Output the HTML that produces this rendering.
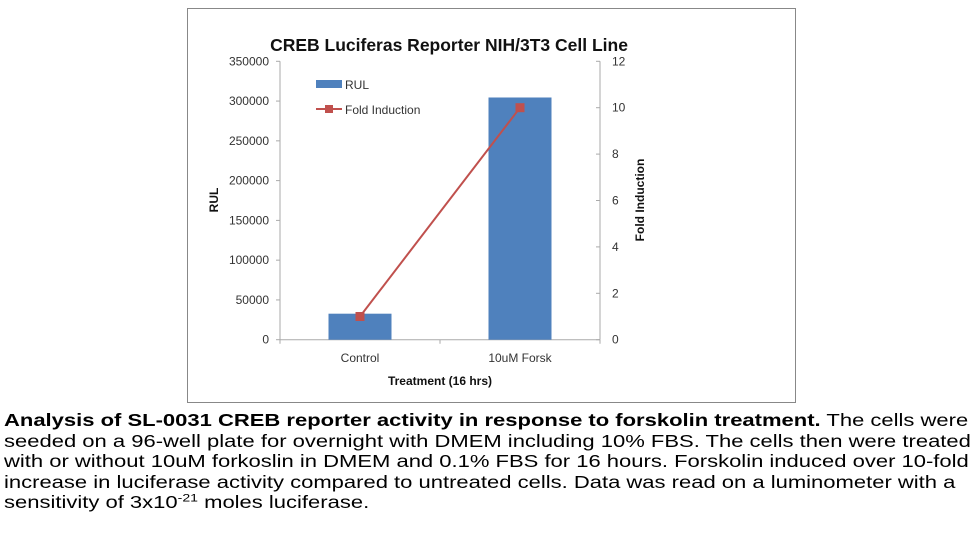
<!DOCTYPE html>
<html><head><meta charset="utf-8"><style>
body{margin:0;width:980px;height:533px;background:#fff;overflow:hidden;font-family:"Liberation Sans",Arial,sans-serif;}
#chart{position:absolute;left:0;top:0;}
#cap{position:absolute;left:4px;top:410px;font-size:17.2px;line-height:20.5px;color:#000;transform:scaleX(1.28);transform-origin:0 0;white-space:nowrap;}
#cap b{font-weight:bold;}
</style></head><body>
<svg id="chart" width="980" height="405" font-family="Liberation Sans, Arial, sans-serif">
<rect x="187.5" y="8.5" width="608" height="394" fill="#fff" stroke="#888" stroke-width="1"/>
<text x="449" y="51" text-anchor="middle" font-size="17.5" font-weight="bold" fill="#111">CREB Luciferas Reporter NIH/3T3 Cell Line</text>
<g id="axes"></g>
<g id="marks"></g>
<rect x="316" y="80" width="26" height="8" fill="#4f81bd"/>
<text x="345" y="89" font-size="12" fill="#333">RUL</text>
<line x1="316" y1="109" x2="342" y2="109" stroke="#c0504d" stroke-width="2"/>
<rect x="325" y="105" width="8" height="8" fill="#c0504d"/>
<text x="345" y="114" font-size="12" fill="#333">Fold Induction</text>
<text x="440" y="385" text-anchor="middle" font-size="12" font-weight="bold" fill="#111">Treatment (16 hrs)</text>
<text transform="translate(218,200) rotate(-90)" text-anchor="middle" font-size="12" font-weight="bold" fill="#111">RUL</text>
<text transform="translate(644,200) rotate(-90)" text-anchor="middle" font-size="12" font-weight="bold" fill="#111">Fold Induction</text>
</svg>
<div id="cap"><div><b>Analysis of SL-0031 CREB reporter activity in response to forskolin treatment.</b> The cells were</div><div>seeded on a 96-well plate for overnight with DMEM including 10% FBS. The cells then were treated</div><div>with or without 10uM forkoslin in DMEM and 0.1% FBS for 16 hours. Forskolin induced over 10-fold</div><div>increase in luciferase activity compared to untreated cells. Data was read on a luminometer with a</div><div>sensitivity of 3x10<sup style="font-size:11px;line-height:0">-21</sup> moles luciferase.</div></div>
<script>
const categories=["Control","10uM Forsk"];
const rulValues=[32700,304500];
const foldValues=[1,10];
const leftTicks=[0,50000,100000,150000,200000,250000,300000,350000];
const rightTicks=[0,2,4,6,8,10,12];
const NS="http://www.w3.org/2000/svg";
const X0=280,X1=600,Y0=339.7,Y1=61.3;
const yL=v=>Y0-(v/350000)*(Y0-Y1);
const yR=v=>Y0-(v/12)*(Y0-Y1);
const bw=(X1-X0)/categories.length;
const xC=i=>X0+bw*(i+0.5);
function mk(t,a,p){const e=document.createElementNS(NS,t);for(const k in a)e.setAttribute(k,a[k]);p.appendChild(e);return e;}
const ax=document.getElementById('axes'),mg=document.getElementById('marks');
let l=mk('line',{x1:X0,y1:Y1,x2:X0,y2:Y0,stroke:'#aaa'},ax);


l=mk('line',{x1:X1,y1:Y1,x2:X1,y2:Y0,stroke:'#aaa'},ax);


l=mk('line',{x1:X0,y1:Y0,x2:X1,y2:Y0,stroke:'#aaa'},ax);


leftTicks.forEach(v=>{const y=yL(v);mk('line',{x1:X0-4,y1:y,x2:X0,y2:y,stroke:'#aaa'},ax);
const t=mk('text',{x:X0-11,y:y+4,'text-anchor':'end','font-size':'12',fill:'#333'},ax);t.textContent=v;

});
rightTicks.forEach(v=>{const y=yR(v);mk('line',{x1:X1-4,y1:y,x2:X1,y2:y,stroke:'#aaa'},ax);
const t=mk('text',{x:X1+12,y:y+4,'text-anchor':'start','font-size':'12',fill:'#333'},ax);t.textContent=v;

});
for(let i=0;i<=categories.length;i++)mk('line',{x1:X0+bw*i,y1:Y0,x2:X0+bw*i,y2:Y0+4,stroke:'#aaa'},ax);
categories.forEach((c,i)=>{const t=mk('text',{x:xC(i),y:362,'text-anchor':'middle','font-size':'12',fill:'#333'},ax);t.textContent=c;


const b=mk('rect',{x:xC(i)-31.5,y:yL(rulValues[i]),width:63,height:Y0-yL(rulValues[i]),fill:'#4f81bd'},mg);

});
const pl=mk('polyline',{points:foldValues.map((v,i)=>xC(i)+','+yR(v)).join(' '),fill:'none',stroke:'#c0504d','stroke-width':2},mg);


foldValues.forEach((v,i)=>{const m=mk('rect',{x:xC(i)-4.5,y:yR(v)-4.5,width:9,height:9,fill:'#c0504d'},mg);

});
</script>
</body></html>
